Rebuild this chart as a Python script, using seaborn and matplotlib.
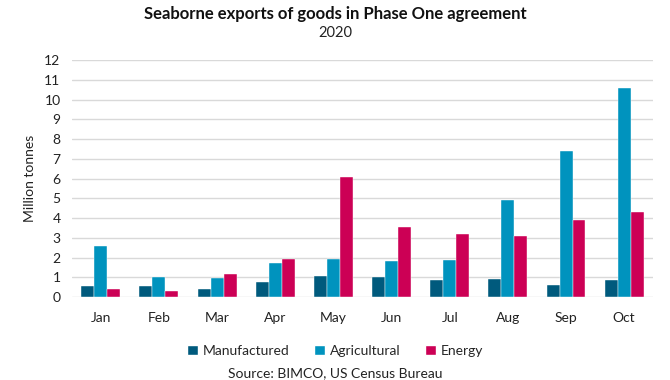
import pandas as pd
import seaborn as sns
import matplotlib.pyplot as plt
from matplotlib.patches import Patch

months = ['Jan', 'Feb', 'Mar', 'Apr', 'May', 'Jun', 'Jul', 'Aug', 'Sep', 'Oct']
manufactured = [0.59, 0.57, 0.39, 0.79, 1.06, 1.04, 0.89, 0.91, 0.61, 0.87]
agricultural = [2.59, 1.04, 0.99, 1.71, 1.92, 1.85, 1.90, 4.94, 7.38, 10.59]
energy = [0.40, 0.32, 1.19, 1.95, 6.10, 3.53, 3.18, 3.08, 3.93, 4.30]

series = ['Manufactured', 'Agricultural', 'Energy']
colors = ['#005A7D', '#0093BE', '#CC0055']

df = pd.DataFrame({'month': months, 'Manufactured': manufactured,
                   'Agricultural': agricultural, 'Energy': energy})
df_long = df.melt(id_vars='month', var_name='type', value_name='tonnes')

sns.set_style('white')
plt.rcParams['font.family'] = ['Lato', 'DejaVu Sans']

fig = plt.figure(figsize=(6.7, 3.8), dpi=100)
ax = fig.add_axes([0.107, 0.218, 0.868, 0.624])

sns.barplot(data=df_long, x='month', y='tonnes', hue='type', hue_order=series,
            palette=colors, width=0.67, saturation=1, linewidth=0.3,
            edgecolor='white', ax=ax, legend=False)

ax.set_ylim(0, 12)
ax.set_yticks(range(0, 13))
ax.set_xlim(-0.5, len(months) - 0.5)
ax.yaxis.grid(True, color='#d9d9d9', linewidth=1)
ax.set_axisbelow(True)
for s in ['top', 'right', 'left', 'bottom']:
    ax.spines[s].set_visible(False)
ax.tick_params(axis='both', length=0, labelsize=10, colors='#222222')
ax.tick_params(axis='x', pad=11)
ax.tick_params(axis='y', pad=8)
ax.set_xlabel('')
ax.set_ylabel('Million tonnes', fontsize=10, color='#222222', labelpad=6)

fig.text(0.5, 0.962, 'Seaborne exports of goods in Phase One agreement',
         ha='center', va='center', fontsize=12, fontweight='bold', color='#111111')
fig.text(0.5, 0.913, '2020', ha='center', va='center', fontsize=10.5, color='#222222')

handles = [Patch(facecolor=c, label=s) for c, s in zip(colors, series)]
fig.legend(handles=handles, loc='center', bbox_to_anchor=(0.5, 0.077), ncol=3,
           frameon=False, fontsize=10, handlelength=0.8, handleheight=0.8,
           handletextpad=0.3, columnspacing=1.8)
fig.text(0.5, 0.018, 'Source: BIMCO, US Census Bureau', ha='center', va='center',
         fontsize=10, color='#222222')

fig.savefig('out.png', dpi=100, facecolor='white')
